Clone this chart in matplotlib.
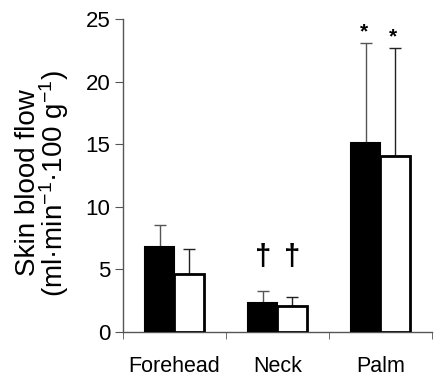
import matplotlib
matplotlib.use("Agg")
import matplotlib.pyplot as plt
import numpy as np

categories = ["Forehead", "Neck", "Palm"]
black_vals = [6.8, 2.3, 15.1]
black_err = [1.75, 1.0, 8.0]
white_vals = [4.6, 2.1, 14.1]
white_err = [2.0, 0.7, 8.6]
black_marks = ["", "\u2020", "*"]
white_marks = ["", "\u2020", "*"]
yticks = [0, 5, 10, 15, 20, 25]

plt.rcParams['font.family'] = ['Liberation Sans', 'DejaVu Sans']
plt.rcParams['mathtext.fontset'] = 'custom'
plt.rcParams['mathtext.rm'] = 'Liberation Sans'
plt.rcParams['mathtext.it'] = 'Liberation Sans:italic'
plt.rcParams['mathtext.bf'] = 'Liberation Sans:bold'

fig = plt.figure(figsize=(4.4, 3.76), dpi=100)
ax = fig.add_axes([0.2795, 0.117, 0.702, 0.832])

x = np.arange(len(categories)) + 0.5
w = 0.285
bx = x - w / 2
wx = x + w / 2

ax.bar(bx, black_vals, w, color="black", edgecolor="black", linewidth=1.5, zorder=3)
ax.bar(wx, white_vals, w, color="white", edgecolor="black", linewidth=2, zorder=3)
ax.errorbar(bx, black_vals, yerr=[np.zeros(3), black_err], fmt="none",
            ecolor="#555555", elinewidth=1, capsize=4, capthick=1, zorder=2)
ax.errorbar(wx, white_vals, yerr=[np.zeros(3), white_err], fmt="none",
            ecolor="#222222", elinewidth=1, capsize=4, capthick=1, zorder=2)

for i in range(3):
    for xx, v, e, m in ((bx[i], black_vals[i], black_err[i], black_marks[i]),
                        (wx[i], white_vals[i], white_err[i], white_marks[i])):
        if m == "*":
            ax.text(xx - 0.02, v + e + 0.9, m, ha="center", va="center", fontsize=15,
                    fontweight="bold")
        elif m:
            ax.text(xx, 6.0, m, ha="center", va="center", fontsize=21, fontweight="bold")

ax.set_xlim(0, 3)
ax.set_ylim(0, 25)
ax.set_yticks(yticks)
ax.set_xticks(x)
ax.set_xticklabels(categories)
ax.set_xticks([0, 1, 2, 3], minor=True)
ax.tick_params(axis="x", which="major", length=0, pad=17, labelsize=15.5)
ax.tick_params(axis="x", which="minor", length=5, direction="out", color="#555555")
ax.tick_params(axis="y", length=6, direction="out", labelsize=16, color="#555555", pad=3)

for s in ("top", "right"):
    ax.spines[s].set_visible(False)
for s in ("left", "bottom"):
    ax.spines[s].set_color("#555555")
    ax.spines[s].set_linewidth(1)

ax.set_ylabel("Skin blood flow\n(ml\u00b7min$^{\\mathregular{-1}}$\u00b7100 g$^{\\mathregular{-1}}$)",
              fontsize=20, linespacing=0.84)
ax.yaxis.set_label_coords(-0.168, 0.476)

fig.savefig("out.png", dpi=100)
